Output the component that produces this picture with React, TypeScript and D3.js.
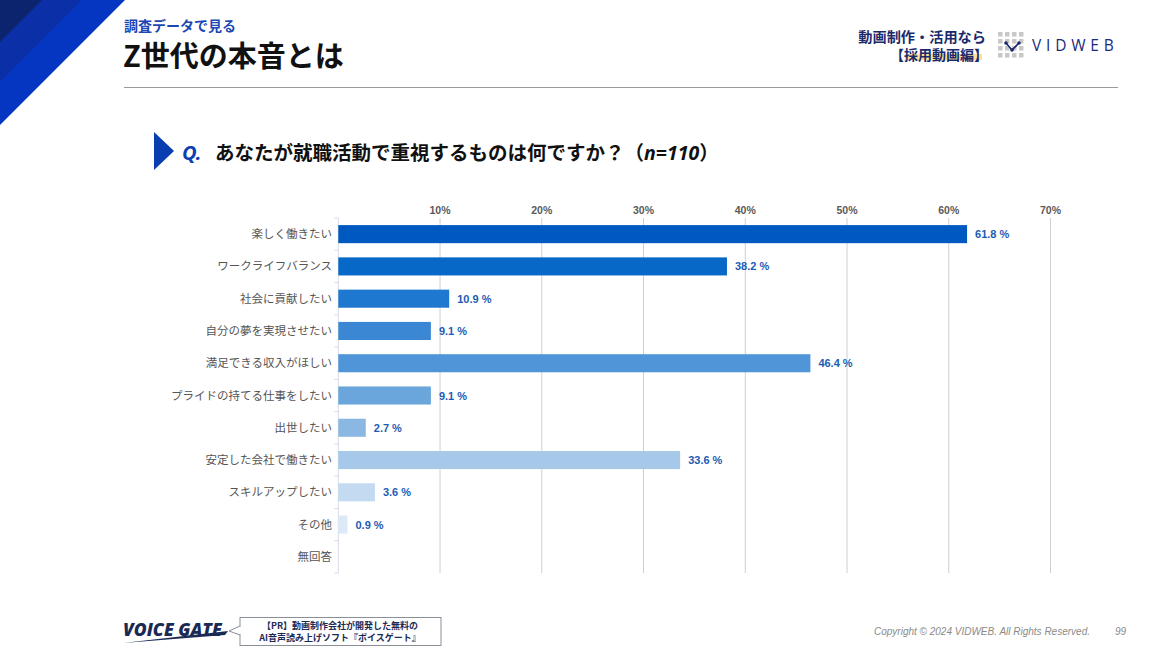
import React from "react";
import * as d3 from "d3";

const categories = [
  "楽しく働きたい",
  "ワークライフバランス",
  "社会に貢献したい",
  "自分の夢を実現させたい",
  "満足できる収入がほしい",
  "プライドの持てる仕事をしたい",
  "出世したい",
  "安定した会社で働きたい",
  "スキルアップしたい",
  "その他",
  "無回答",
];
const values: (number | null)[] = [61.8, 38.2, 10.9, 9.1, 46.4, 9.1, 2.7, 33.6, 3.6, 0.9, null];
const barColors = [
  "#0059c1", "#0868c7", "#1f78cf", "#3b87d3", "#4f95d7", "#6aa5dc",
  "#8bb8e3", "#a6c9ea", "#c3daf1", "#dde9f6", "#eef4fb",
];
const tickValues = [10, 20, 30, 40, 50, 60, 70];

const FONT = "'Noto Sans CJK JP', 'Noto Sans', sans-serif";

export default function App() {
  const W = 1170, H = 658;
  const x = d3.scaleLinear().domain([0, 70]).range([338.3, 1050.5]);
  const y = d3.scaleBand<string>().domain(categories).range([218, 573]).paddingInner(0.44).paddingOuter(0.22);
  const step = y.step();
  const gridSquares: [number, number][] = [];
  for (let r = 0; r < 4; r++) for (let c = 0; c < 4; c++) gridSquares.push([c, r]);

  return (
    <svg width={W} height={H} style={{ position: "absolute", left: 0, top: 0, background: "#fff", fontFamily: FONT }}>
      <rect width={W} height={H} fill="#fff" />
      {/* corner decoration */}
      <polygon points="0,0 125,0 0,125" fill="#0536c2" />
      <polygon points="0,0 82,0 0,82" fill="#0a2fa6" />
      <polygon points="0,0 42,0 0,42" fill="#0c246e" />

      {/* header */}
      <text x={124} y={31} fontSize={14} fontWeight={700} fill="#1c48b4">調査データで見る</text>
      <text x={123} y={67} fontSize={29} fontWeight={700} fill="#111">Z世代の本音とは</text>
      <line x1={124} x2={1118} y1={87.5} y2={87.5} stroke="#9a9a9a" strokeWidth={1} />

      <text x={986} y={42} fontSize={14.2} fontWeight={700} fill="#1b2a6b" textAnchor="end">動画制作・活用なら</text>
      <rect x={905} y={54} width={77} height={6} fill="#fbe49a" />
      <text x={988} y={60} fontSize={14} fontWeight={700} fill="#1b2a6b" textAnchor="end">【採用動画編】</text>
      {gridSquares.map(([c, r], i) => (
        <rect key={i} x={998 + c * 7} y={32 + r * 7} width={4.5} height={4.5} fill="#c8c8c8" />
      ))}
      <polyline points="1006,43 1012,50 1019,43" fill="none" stroke="#1b2a6b" strokeWidth={1.6} />
      <circle cx={1006} cy={43} r={1.8} fill="#1b2a6b" />
      <circle cx={1012} cy={50} r={1.8} fill="#1b2a6b" />
      <circle cx={1019} cy={43} r={1.8} fill="#1b2a6b" />
      <text x={1032} y={51} fontSize={15.5} fontWeight={500} fill="#1b2a7a" letterSpacing={4.8} fontFamily="'Open Sans', sans-serif">VIDWEB</text>

      {/* question */}
      <polygon points="154,132 174,151 154,170" fill="#0a3db0" />
      <text x={182} y={160} fontSize={20} fontWeight={700} fontStyle="italic" fill="#0c3fb3" fontFamily="'Noto Sans', sans-serif">Q.</text>
      <text x={215} y={160} fontSize={19.5} fontWeight={700} fill="#111">あなたが就職活動で重視するものは何ですか？（<tspan fontStyle="italic" fontFamily="'Noto Sans', sans-serif">n=110</tspan>）</text>

      {/* grid */}
      {tickValues.map((t) => (
        <g key={t}>
          <line x1={x(t)} x2={x(t)} y1={218} y2={573} stroke="#cfcfcf" strokeWidth={1} />
          <text x={x(t)} y={214} fontSize={10.5} fontWeight={700} fill="#5a5a5a" textAnchor="middle" fontFamily="'Liberation Sans', Arial, sans-serif">{t}%</text>
        </g>
      ))}
      <line x1={x(0)} x2={x(0)} y1={218} y2={573} stroke="#d6dde6" strokeWidth={1} />
      {d3.range(categories.length + 1).map((i) => (
        <line key={i} x1={x(0) - 4} x2={x(0)} y1={218 + i * step} y2={218 + i * step} stroke="#d6dde6" />
      ))}

      {/* bars */}
      {categories.map((c, i) => {
        const v = values[i];
        const yy = y(c)!;
        const cy = yy + y.bandwidth() / 2;
        return (
          <g key={c}>
            <text x={332} y={cy + 4} fontSize={11.5} fill="#555" textAnchor="end">{c}</text>
            {v !== null && (
              <>
                <rect x={x(0)} y={yy} width={x(v) - x(0)} height={y.bandwidth()} fill={barColors[i]} />
                <text x={x(v) + 8} y={cy + 4} fontSize={11} fontWeight={700} fill="#1c5cb4" fontFamily="'Liberation Sans', Arial, sans-serif">{v.toFixed(1)} %</text>
              </>
            )}
          </g>
        );
      })}

      {/* footer */}
      <text x={123} y={636} fontSize={17.5} fontWeight={800} fontStyle="italic" fill="#1b2a55" fontFamily="'Open Sans', sans-serif" letterSpacing={0}>VOICE GATE</text>
      <polygon points="123,643 228,631 225,635" fill="#1b2a55" />
      <rect x={240} y={617.5} width={201} height={28} fill="#fff" stroke="#8a8f98" strokeWidth={1} />
      <polyline points="240,626 229,631 240,635" fill="#fff" stroke="#8a8f98" strokeWidth={1} />
      <line x1={240.5} x2={240.5} y1={627} y2={634} stroke="#fff" strokeWidth={1.5} />
      <text x={340} y={629} fontSize={9} fontWeight={700} fill="#1b2a55" textAnchor="middle">【PR】動画制作会社が開発した無料の</text>
      <text x={340} y={641} fontSize={9} fontWeight={700} fill="#1b2a55" textAnchor="middle">AI音声読み上げソフト『ボイスゲート』</text>

      <text x={874} y={635} fontSize={10} fontStyle="italic" fill="#8a8a8a" fontFamily="'Liberation Sans', Arial, sans-serif">Copyright © 2024 VIDWEB. All Rights Reserved.</text>
      <text x={1115} y={635} fontSize={10} fontStyle="italic" fill="#8a8a8a" fontFamily="'Liberation Sans', Arial, sans-serif">99</text>
    </svg>
  );
}
